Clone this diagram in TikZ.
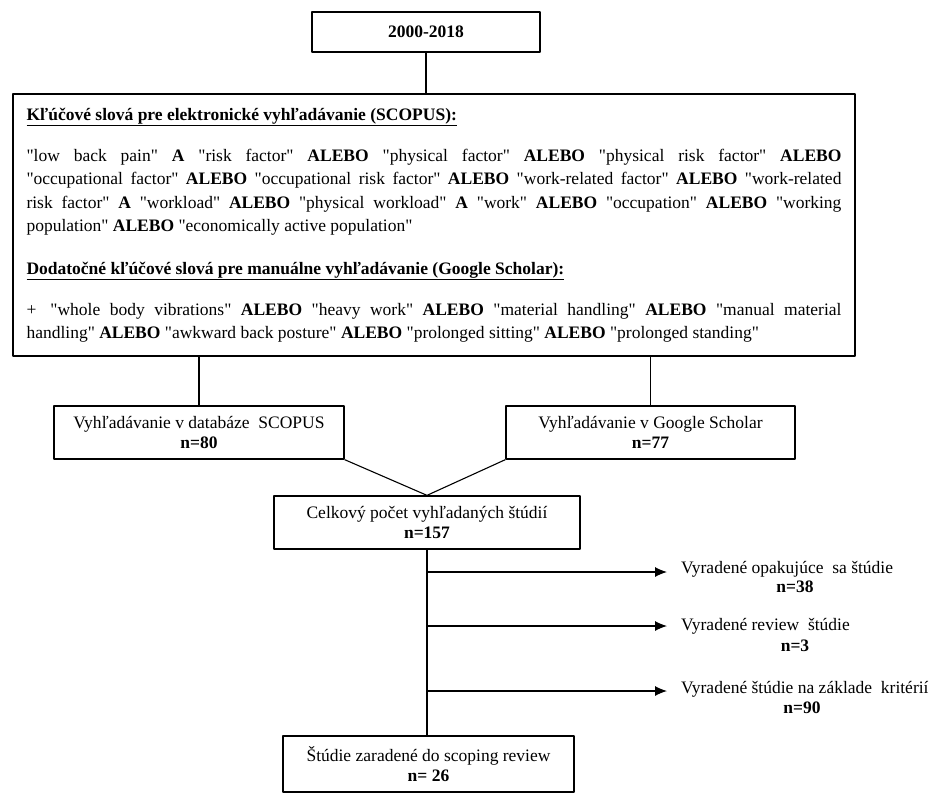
\documentclass[tikz,border=0pt]{standalone}
\usepackage{fontspec}
\setmainfont{Liberation Serif}[Ligatures=TeXOff]
\usetikzlibrary{arrows.meta}
\setlength{\parindent}{0pt}
\newcommand{\kwo}{\textbf{ALEBO}}
\newcommand{\kwa}{\textbf{A}}
\begin{document}
\begin{tikzpicture}[line join = round, x=1pt, y=-1pt,
    box/.style={draw, line width=1.3pt, inner sep=0pt, align=center,
      font=\fontsize{17.5}{19.5}\selectfont},
    excl/.style={anchor=west, inner xsep=14pt, inner ysep=0pt,
      font=\fontsize{17.5}{19.5}\selectfont},
    cnt/.style={inner sep=0pt, font=\fontsize{17.5}{19.5}\selectfont\bfseries},
    link/.style={line width=1.1pt},
    arr/.style={line width=1.1pt, -{Latex[length=12pt,width=10pt]}}]
      \useasboundingbox (0,0) rectangle (939,800);

      \node[box, minimum width=228pt, minimum height=40pt] (yr) at (426,32) {\textbf{2000-2018}};
      \node[box, minimum width=842pt, minimum height=262pt, text width=815pt, align=justify,
        font=\fontsize{17.5}{23.5}\selectfont] (kw) at (434,225) {%
        \hyphenpenalty=10000 \exhyphenpenalty=10000 \tolerance=9999 \emergencystretch=20pt
        \underline{\textbf{Kľúčové slová pre elektronické vyhľadávanie (SCOPUS):}}\par\vspace{17.5pt}
        "low back pain" \kwa{} "risk factor" \kwo{} "physical factor" \kwo{} "physical risk factor" \kwo\linebreak
        "occupational factor" \kwo{} "occupational risk factor" \kwo{} "work-related factor" \kwo{} "work-related\linebreak
        risk factor" \kwa{} "workload" \kwo{} "physical workload" \kwa{} "work" \kwo{} "occupation" \kwo{} "working\linebreak
        population" \kwo{} "economically active population"\par\vspace{19pt}
        \underline{\textbf{Dodatočné kľúčové slová pre manuálne vyhľadávanie (Google Scholar):}}\par\vspace{17.5pt}
        +\hspace{14pt}"whole body vibrations" \kwo{} "heavy work" \kwo{} "material handling" \kwo{} "manual material\linebreak
        handling" \kwo{} "awkward back posture" \kwo{} "prolonged sitting" \kwo{} "prolonged standing"\par};

      \node[box, minimum width=290pt, minimum height=53pt] (s1) at (199,432.5) {Vyhľadávanie v databáze\ \ SCOPUS\\\textbf{n=80}};
      \node[box, minimum width=289pt, minimum height=53pt] (s2) at (650.5,432.5) {Vyhľadávanie v Google Scholar\\\textbf{n=77}};
      \node[box, minimum width=306pt, minimum height=53pt] (tot) at (427,522.5) {Celkový počet vyhľadaných štúdií\\\textbf{n=157}};
      \node[box, minimum width=291pt, minimum height=56pt] (fin) at (428.5,764) {Štúdie zaradené do scoping review\\\textbf{n= 26}};

      \node[excl] (ex1) at (667,569) {Vyradené opakujúce\ \ sa štúdie};
      \node[cnt] (n1) at (795,587) {n=38};
      \node[excl] (ex2) at (667,626) {Vyradené review\ \ štúdie};
      \node[cnt] (n2) at (795,646) {n=3};
      \node[excl] (ex3) at (667,689) {Vyradené štúdie na základe\ \ kritérií};
      \node[cnt] (n3) at (802,708) {n=90};

      \coordinate (b1) at (427,572);
      \coordinate (b2) at (427,626);
      \coordinate (b3) at (427,691);

      \draw[link] (yr.south) -- (yr.south |- kw.north);
      \draw[link] (s1.north |- kw.south) -- (s1.north);
      \draw[link] (s2.north |- kw.south) -- (s2.north);
      \draw[link] (s1.south east) -- (tot.north);
      \draw[link] (s2.south west) -- (tot.north);
      \draw[link] (tot.south) -- (tot.south |- fin.north);
      \draw[arr] (b1) -- (b1 -| ex1.west);
      \draw[arr] (b2) -- (b2 -| ex2.west);
      \draw[arr] (b3) -- (b3 -| ex3.west);
    \end{tikzpicture}
\end{document}
